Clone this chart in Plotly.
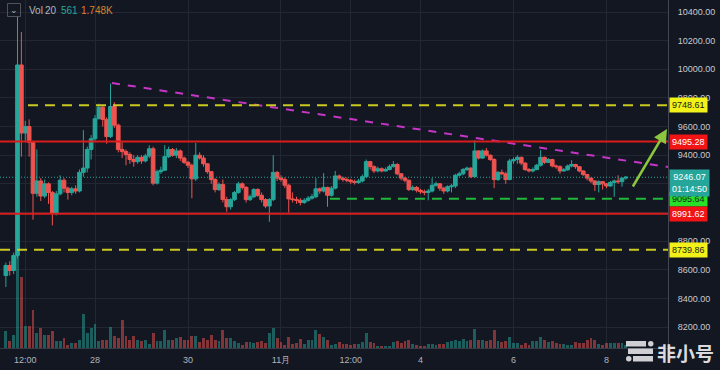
import plotly.graph_objects as go
import pandas as pd

# ---------------- data ----------------
first_bar = "2019-10-26 02:00"   # 2h candles, UTC+8
bar_hours = 2

opens = [8560, 8630, 8595, 8700, 10030, 9555, 9600, 9490, 9134, 9220,
         9115, 9200, 9140, 8995, 9130, 9225, 9170, 9140, 9165, 9150,
         9280, 9310, 9440, 9515, 9655, 9735, 9650, 9530, 9740, 9610,
         9440, 9425, 9405, 9370, 9355, 9385, 9360, 9395, 9445, 9205,
         9285, 9295, 9390, 9440, 9400, 9430, 9380, 9350, 9330, 9235,
         9400, 9380, 9340, 9285, 9230, 9160, 9195, 9090, 9040, 9090,
         9140, 9200, 9175, 9090, 9110, 9160, 9120, 9090, 9045, 9090,
         9280, 9240, 9230, 9190, 9095, 9090, 9085, 9070, 9085, 9100,
         9110, 9165, 9150, 9175, 9120, 9170, 9255, 9240, 9230, 9225,
         9215, 9210, 9220, 9250, 9355, 9320, 9290, 9305, 9290, 9300,
         9320, 9335, 9270, 9240, 9225, 9160, 9175, 9155, 9145, 9140,
         9150, 9190, 9200, 9170, 9150, 9180, 9185, 9260, 9270, 9300,
         9310, 9250, 9430, 9380, 9430, 9400, 9370, 9230, 9280, 9270,
         9230, 9360, 9370, 9385, 9345, 9300, 9290, 9300, 9330, 9385,
         9350, 9370, 9325, 9320, 9290, 9298, 9325, 9335, 9320, 9290,
         9265, 9240, 9220, 9195, 9215, 9200, 9185, 9210, 9220, 9215,
         9240]

highs = [8650, 8660, 8720, 10365, 10260, 9640, 9650, 9500, 9440, 9240,
         9230, 9210, 9150, 9150, 9260, 9240, 9180, 9180, 9190, 9300,
         9575, 9460, 9540, 9680, 9760, 9750, 9665, 9900, 9770, 9620,
         9490, 9440, 9420, 9400, 9400, 9400, 9410, 9470, 9460, 9300,
         9320, 9470, 9460, 9450, 9450, 9440, 9390, 9360, 9340, 9485,
         9420, 9400, 9345, 9290, 9240, 9210, 9230, 9110, 9100, 9150,
         9215, 9210, 9185, 9125, 9170, 9170, 9140, 9100, 9100, 9400,
         9290, 9260, 9245, 9200, 9140, 9110, 9100, 9100, 9115, 9130,
         9240, 9175, 9275, 9180, 9185, 9290, 9265, 9250, 9245, 9235,
         9230, 9235, 9265, 9370, 9360, 9330, 9320, 9315, 9315, 9335,
         9360, 9345, 9275, 9250, 9230, 9190, 9185, 9165, 9160, 9165,
         9240, 9215, 9205, 9180, 9190, 9200, 9270, 9285, 9310, 9320,
         9315, 9505, 9435, 9440, 9450, 9405, 9380, 9290, 9300, 9285,
         9375, 9385, 9400, 9390, 9350, 9310, 9315, 9340, 9436, 9390,
         9380, 9375, 9335, 9330, 9310, 9335, 9365, 9340, 9325, 9295,
         9270, 9245, 9225, 9225, 9220, 9205, 9220, 9230, 9260, 9245,
         9255]

lows = [8480, 8560, 8570, 8680, 9390, 9500, 9390, 8950, 9110, 9080,
        9100, 9060, 8910, 8980, 9120, 9140, 9090, 9120, 9130, 9140,
        9250, 9280, 9370, 9500, 9650, 9600, 9480, 9520, 9590, 9420,
        9380, 9330, 9340, 9320, 9340, 9340, 9350, 9380, 9190, 9195,
        9270, 9290, 9380, 9390, 9380, 9360, 9340, 9310, 9100, 9220,
        9370, 9320, 9270, 9200, 9140, 9150, 9070, 9005, 9020, 9080,
        9130, 9160, 9070, 9080, 9100, 9110, 9070, 9030, 8935, 9080,
        9220, 9215, 9170, 9000, 9070, 9060, 9050, 9060, 9075, 9090,
        9100, 9130, 9140, 9040, 9110, 9160, 9225, 9215, 9210, 9200,
        9195, 9200, 9210, 9240, 9300, 9275, 9280, 9280, 9285, 9295,
        9315, 9260, 9225, 9210, 9150, 9150, 9140, 9130, 9120, 9085,
        9140, 9180, 9150, 9130, 9140, 9140, 9170, 9250, 9260, 9290,
        9240, 9245, 9370, 9375, 9390, 9360, 9170, 9220, 9260, 9200,
        9225, 9340, 9340, 9330, 9290, 9280, 9280, 9295, 9320, 9340,
        9345, 9315, 9305, 9270, 9285, 9290, 9315, 9305, 9280, 9255,
        9225, 9205, 9150, 9140, 9160, 9170, 9180, 9110, 9200, 9180,
        9230]

closes = [8630, 8595, 8700, 10030, 9555, 9600, 9490, 9134, 9220, 9115,
          9200, 9140, 8995, 9130, 9225, 9170, 9140, 9165, 9150, 9280,
          9310, 9440, 9515, 9655, 9735, 9650, 9530, 9740, 9610, 9440,
          9425, 9405, 9370, 9355, 9385, 9360, 9395, 9445, 9205, 9285,
          9295, 9390, 9440, 9400, 9430, 9380, 9350, 9330, 9235, 9400,
          9380, 9340, 9285, 9230, 9160, 9195, 9090, 9040, 9090, 9140,
          9200, 9175, 9090, 9110, 9160, 9120, 9090, 9045, 9090, 9280,
          9240, 9230, 9190, 9095, 9090, 9085, 9070, 9085, 9100, 9110,
          9165, 9150, 9175, 9120, 9170, 9255, 9240, 9230, 9225, 9215,
          9210, 9220, 9250, 9355, 9320, 9290, 9305, 9290, 9300, 9320,
          9335, 9270, 9240, 9225, 9160, 9175, 9155, 9145, 9140, 9150,
          9190, 9200, 9170, 9150, 9180, 9185, 9260, 9270, 9300, 9310,
          9250, 9430, 9380, 9430, 9400, 9370, 9230, 9280, 9270, 9230,
          9360, 9370, 9385, 9345, 9300, 9290, 9300, 9330, 9385, 9350,
          9370, 9325, 9320, 9290, 9298, 9325, 9335, 9320, 9290, 9265,
          9240, 9220, 9195, 9215, 9200, 9185, 9210, 9220, 9215, 9240,
          9246.07]

volumes = [3400, 1400, 2600, 22000, 14200, 4400, 4400, 7600, 3000, 4000,
           2600, 2600, 3400, 1400, 1400, 2000, 600, 1000, 1000, 1600,
           6800, 3000, 4000, 4800, 1400, 1600, 1600, 4200, 2400, 2000,
           5600, 2400, 1600, 2400, 1600, 1400, 1600, 800, 3000, 1400,
           1400, 3600, 1600, 1600, 2000, 2200, 1600, 1600, 2400, 2400,
           1200, 2000, 1600, 2600, 1600, 1400, 3600, 2000, 2000, 1400,
           1000, 600, 1200, 1200, 1000, 1200, 1400, 1000, 3000, 4000,
           2000, 1200, 600, 2200, 800, 1000, 1800, 800, 1600, 1600,
           3600, 2800, 2200, 1600, 600, 800, 1200, 800, 800, 600,
           800, 800, 1200, 3000, 1200, 1000, 400, 400, 400, 400,
           1200, 1400, 1000, 1400, 1600, 800, 600, 400, 400, 800,
           800, 600, 800, 800, 1200, 1400, 1600, 1400, 1800, 1400,
           1600, 3800, 1600, 1600, 1400, 1600, 3600, 1400, 1200, 1400,
           2200, 1000, 1000, 600, 1000, 600, 1400, 1400, 2200, 1600,
           1200, 1400, 1000, 800, 800, 600, 600, 1200, 1000, 1000,
           1600, 2000, 1600, 800, 600, 1000, 1000, 1000, 1000, 1000,
           561]

x_range = ["2019-10-25 22:58", "2019-11-09 07:45"]
price_range = [8053.7, 10483.8]
volume_range = [0, 69600]

x_tick_vals = ["2019-10-26 12:00", "2019-10-28", "2019-10-30", "2019-11-01",
               "2019-11-02 12:00", "2019-11-04", "2019-11-06", "2019-11-08"]
x_tick_text = ["12:00", "28", "30", "11月", "12:00", "4", "6", "8"]
price_ticks = [8200, 8400, 8600, 8800, 9000, 9200, 9400, 9600, 9800, 10000, 10200, 10400]
# 9000 and 9200 labels are completely hidden behind the level boxes in the reference
price_tick_text = ["8200.00", "8400.00", "8600.00", "8800.00", "", "", "9400.00", "9600.00",
                   "9800.00", "10000.00", "10200.00", "10400.00"]

# horizontal levels drawn on the chart
level_prices = [9748.61, 9495.28, 9095.64, 8991.62, 8739.86]
level_starts = ["2019-10-26 13:25", None, "2019-11-02 01:15", None, None]
level_colors = ["#c9c922", "#d91c1c", "#22b83a", "#d91c1c", "#c9c922"]
level_dash = ["10px,7px", "solid", "10px,7px", "solid", "10px,7px"]
label_bg = ["#f2f21a", "#f01414", "#27e027", "#f01414", "#f2f21a"]
label_fg = ["#1a1a1a", "#ffffff", "#1a1a1a", "#ffffff", "#1a1a1a"]

last_price = 9246.07
countdown = "01:14:50"

trend_x = ["2019-10-28 08:45", "2019-11-09 07:45"]
trend_y = [9904, 9318]

arrow_tail = ("2019-11-08 13:09", 9171)
arrow_head = ("2019-11-09 07:13", 9583)

legend_parts = [("Vol", "#b2b5be"), ("20", "#b2b5be"), ("561", "#26a69a"), ("1.748K", "#d9822b")]

# ---------------- figure ----------------
UP = "#26a69a"
DN = "#ef5350"
BG = "#131722"
GRID = "#232733"
FONT = "Liberation Sans"

times = pd.date_range(first_bar, periods=len(closes), freq=f"{bar_hours}h")
vol_colors = ["rgba(38,166,154,0.5)" if c >= o else "rgba(239,83,80,0.5)"
              for o, c in zip(opens, closes)]

fig = go.Figure()
fig.add_trace(go.Bar(x=times, y=volumes, marker=dict(color=vol_colors, line=dict(width=0)),
                     width=bar_hours * 3600 * 1000 * 0.72, yaxis="y", hoverinfo="skip"))
fig.add_trace(go.Candlestick(x=times, open=opens, high=highs, low=lows, close=closes,
                             increasing=dict(line=dict(color=UP, width=1), fillcolor=UP),
                             decreasing=dict(line=dict(color=DN, width=1), fillcolor=DN),
                             whiskerwidth=0, yaxis="y2"))
fig.add_trace(go.Scatter(x=trend_x, y=trend_y, mode="lines", yaxis="y2",
                         line=dict(color="#c636c6", width=2, dash="8px,8px")))

shapes = []
# current price dotted line
shapes.append(dict(type="line", xref="paper", yref="y2", x0=0, x1=1, y0=last_price, y1=last_price,
                   line=dict(color="#26a69a", width=1, dash="1px,2px")))
for p, s, c, d in zip(level_prices, level_starts, level_colors, level_dash):
    if s is None:
        shapes.append(dict(type="line", xref="paper", yref="y2", x0=0, x1=1, y0=p, y1=p,
                           line=dict(color=c, width=2, dash=d)))
    else:
        shapes.append(dict(type="line", xref="x", yref="y2", x0=s, x1=x_range[1], y0=p, y1=p,
                           line=dict(color=c, width=2, dash=d)))

# watermark logo bars (paper coords; plot area is 668x348 px)
def px(xp):
    return xp / 668.0
def py(yp):
    return 1 - yp / 348.0
logo = "rgba(225,225,228,0.92)"
for (x0, y0, x1, y1) in [(626, 341, 646, 346.5), (628, 348.5, 653, 354), (633, 356, 653, 361.5)]:
    shapes.append(dict(type="rect", xref="paper", yref="paper", x0=px(x0), x1=px(x1), y0=py(y1), y1=py(y0),
                       line=dict(width=0), fillcolor=logo))
for (x0, y0, x1, y1) in [(648, 341, 653.5, 346.5), (626, 356, 631.5, 361.5)]:
    shapes.append(dict(type="circle", xref="paper", yref="paper", x0=px(x0), x1=px(x1), y0=py(y1), y1=py(y0),
                       line=dict(width=0), fillcolor=logo))
# legend chevron box
shapes.append(dict(type="rect", xref="paper", yref="paper", x0=px(7.5), x1=px(20.5), y0=py(16.5), y1=py(3.5),
                   line=dict(color="#50535e", width=1), fillcolor="rgba(0,0,0,0)"))

annotations = []
for p, bg, fg in zip(level_prices, label_bg, label_fg):
    annotations.append(dict(xref="paper", yref="y2", x=1, y=p, xanchor="left", yanchor="middle", xshift=1,
                            text=f"{p:.2f}", showarrow=False, bgcolor=bg, borderpad=2,
                            font=dict(color=fg, size=9, family=FONT)))
annotations.append(dict(xref="paper", yref="y2", x=1, y=last_price, xanchor="left", yanchor="top", xshift=1,
                        yshift=8, text=f"{last_price:.2f}<br>{countdown}", showarrow=False, bgcolor=UP,
                        borderpad=2, align="center", font=dict(color="#ffffff", size=9, family=FONT)))
# green arrow
annotations.append(dict(x=arrow_head[0], y=arrow_head[1], xref="x", yref="y2",
                        ax=arrow_tail[0], ay=arrow_tail[1], axref="x", ayref="y2",
                        showarrow=True, arrowhead=2, arrowsize=1.1, arrowwidth=2.5,
                        arrowcolor="#8cc63e", text="", standoff=0))
# legend text
leg_x = [27, 43, 59, 79]
for (t, col), xl in zip(legend_parts, leg_x):
    annotations.append(dict(xref="paper", yref="paper", x=px(xl), y=py(10), xanchor="left", yanchor="middle",
                            text=t, showarrow=False, font=dict(color=col, size=10, family=FONT)))
annotations.append(dict(xref="paper", yref="paper", x=px(14), y=py(10.5), xanchor="center", yanchor="middle",
                        text="⌄", showarrow=False, font=dict(color="#b2b5be", size=9, family="DejaVu Sans")))
# watermark text
annotations.append(dict(xref="paper", yref="paper", x=px(685), y=py(352), xanchor="center", yanchor="middle",
                        text="<b>非小号</b>", showarrow=False,
                        font=dict(color="rgba(232,232,235,0.95)", size=19, family="Noto Sans CJK SC")))

fig.update_layout(
    width=720, height=370,
    margin=dict(l=0, r=52, t=0, b=22),
    paper_bgcolor=BG, plot_bgcolor=BG,
    showlegend=False,
    bargap=0,
    boxgap=0.05, boxgroupgap=0,
    xaxis=dict(type="date", range=x_range, tickvals=x_tick_vals, ticktext=x_tick_text,
               showgrid=True, gridcolor=GRID, gridwidth=1, zeroline=False,
               tickfont=dict(size=9, color="#b2b5be", family=FONT),
               rangeslider=dict(visible=False), showline=True, linecolor="#363a45",
               ticks="outside", ticklen=3, tickcolor=BG),
    yaxis=dict(range=volume_range, visible=False, showgrid=False, zeroline=False),
    yaxis2=dict(overlaying="y", side="right", range=price_range, tickvals=price_ticks,
                ticktext=price_tick_text, showgrid=True, gridcolor=GRID,
                zeroline=False, tickfont=dict(size=9, color="#c8cad0", family=FONT),
                showline=True, linecolor="#434651", ticks="outside", ticklen=7, tickcolor=BG),
    shapes=shapes,
    annotations=annotations,
)

fig.write_html("out.html")
